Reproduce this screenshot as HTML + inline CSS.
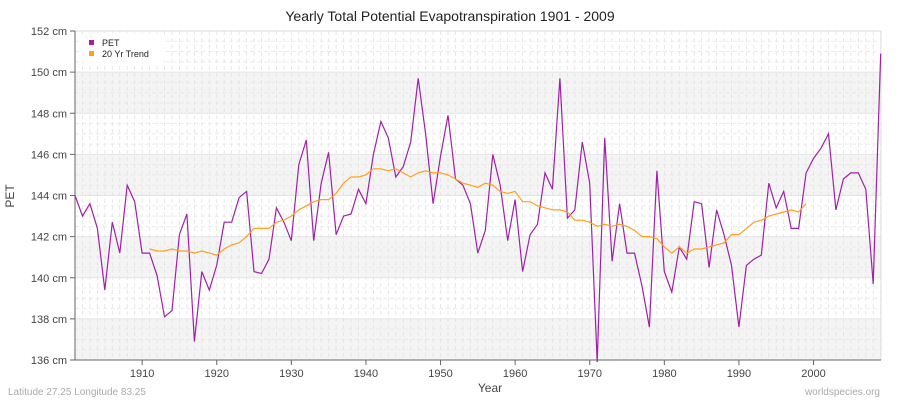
<!DOCTYPE html>
<html><head><meta charset="utf-8"><style>
html,body{margin:0;padding:0;background:#fff;}
svg{display:block;font-family:"Liberation Sans",sans-serif;}
</style></head><body>
<svg id="c" width="900" height="400" viewBox="0 0 900 400" xmlns="http://www.w3.org/2000/svg"></svg>
<script>
const pet=[144.0,143.0,143.6,142.4,139.4,142.7,141.2,144.5,143.7,141.2,141.2,140.1,138.1,138.4,142.1,143.1,136.9,140.3,139.4,140.6,142.7,142.7,143.9,144.2,140.3,140.2,140.9,143.4,142.7,141.8,145.5,146.7,141.8,144.6,146.1,142.1,143.0,143.1,144.3,143.6,146.0,147.6,146.8,144.9,145.4,146.6,149.7,147.0,143.6,145.9,147.9,144.8,144.5,143.6,141.2,142.3,146.0,144.5,141.8,143.8,140.3,142.1,142.6,145.1,144.3,149.7,142.9,143.3,146.6,144.6,135.9,146.8,140.8,143.6,141.2,141.2,139.6,137.6,145.2,140.3,139.3,141.5,140.9,143.7,143.6,140.5,143.3,142.1,140.6,137.6,140.6,140.9,141.1,144.6,143.4,144.2,142.4,142.4,145.1,145.8,146.3,147.0,143.3,144.8,145.1,145.1,144.3,139.7,150.9];
const tr=[141.4,141.3,141.3,141.4,141.3,141.3,141.2,141.3,141.2,141.1,141.4,141.6,141.7,142.0,142.4,142.4,142.4,142.7,142.8,143.0,143.3,143.5,143.7,143.8,143.8,144.1,144.6,144.9,144.9,145.0,145.3,145.3,145.2,145.3,145.1,144.9,145.1,145.2,145.1,145.1,145.0,144.8,144.6,144.5,144.4,144.6,144.5,144.2,144.1,144.2,143.7,143.7,143.5,143.4,143.3,143.3,143.2,142.8,142.8,142.7,142.5,142.6,142.5,142.6,142.5,142.3,142.0,142.0,141.9,141.5,141.2,141.5,141.2,141.4,141.4,141.5,141.6,141.7,142.1,142.1,142.4,142.7,142.8,143.0,143.1,143.2,143.3,143.2,143.6];
const X=y=>75+(y-1901)*7.46, Y=v=>360-(v-136)*20.5625;
let s='';
// bands
for(const [a,b] of [[150,148],[146,144],[142,140],[138,136]]) s+=`<rect x="75" y="${Y(a)}" width="806" height="${Y(b)-Y(a)}" fill="#f4f4f4"/>`;
for(let v=136.5;v<152;v+=0.5){ if(v%2) s+=`<line x1="75" x2="881" y1="${Y(v)}" y2="${Y(v)}" stroke="#e6e6e6" stroke-dasharray="4,3" stroke-width="0.8"/>`;}
for(let yr=1901;yr<=2009;yr++) s+=`<line x1="${X(yr)}" x2="${X(yr)}" y1="31" y2="360" stroke="#e2e2e2" stroke-dasharray="4,3" stroke-width="0.8"/>`;
for(let v=136;v<=152;v+=2){ s+=`<line x1="75" x2="881" y1="${Y(v)}" y2="${Y(v)}" stroke="#e4e4e4"/>`;
 s+=`<line x1="70" x2="75" y1="${Y(v)}" y2="${Y(v)}" stroke="#666"/>`;
 s+=`<text x="67" y="${Y(v)+4}" font-size="11" fill="#444" text-anchor="end">${v} cm</text>`;}
s+=`<line x1="881" x2="881" y1="31" y2="360" stroke="#ddd"/><line x1="75" x2="881" y1="31" y2="31" stroke="#ddd"/>`;
s+=`<line x1="75" x2="75" y1="31" y2="360" stroke="#666"/><line x1="75" x2="881" y1="360" y2="360" stroke="#666"/>`;
for(let yr=1910;yr<=2000;yr+=10){s+=`<line x1="${X(yr)}" x2="${X(yr)}" y1="360" y2="365" stroke="#666"/><text x="${X(yr)}" y="377" font-size="11" fill="#444" text-anchor="middle">${yr}</text>`;}
s+=`<polyline fill="none" stroke="#a020a8" stroke-width="1.2" points="${pet.map((v,i)=>X(1901+i).toFixed(1)+','+Y(v).toFixed(1)).join(' ')}"/>`;
s+=`<polyline fill="none" stroke="#ffa020" stroke-width="1.2" points="${tr.map((v,i)=>X(1911+i).toFixed(1)+','+Y(v).toFixed(1)).join(' ')}"/>`;
s+=`<rect x="81" y="33" width="84" height="30" rx="4" fill="#fff" opacity="0.9"/>`;
s+=`<rect x="89" y="40" width="5" height="5" fill="#a020a8"/><text x="102" y="46" font-size="9" fill="#222">PET</text>`;
s+=`<rect x="89" y="51" width="5" height="5" fill="#ffa020"/><text x="102" y="57" font-size="9" fill="#222">20 Yr Trend</text>`;
s+=`<text x="450" y="21" font-size="14" fill="#222" text-anchor="middle">Yearly Total Potential Evapotranspiration 1901 - 2009</text>`;
s+=`<text x="490" y="392" font-size="12" fill="#444" text-anchor="middle">Year</text>`;
s+=`<text x="14" y="196" font-size="12" fill="#444" text-anchor="middle" transform="rotate(-90 14 196)">PET</text>`;
s+=`<text x="8" y="395" font-size="10" fill="#aaa">Latitude 27.25 Longitude 83.25</text>`;
s+=`<text x="880" y="395" font-size="10" fill="#aaa" text-anchor="end">worldspecies.org</text>`;
document.getElementById('c').innerHTML=s;
</script>
</body></html>
